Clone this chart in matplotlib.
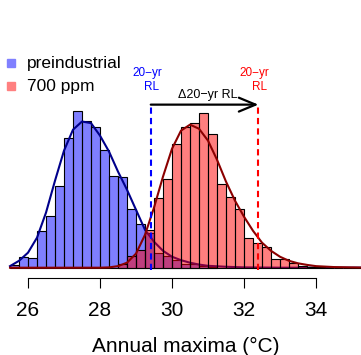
import numpy as np
import matplotlib
matplotlib.use("Agg")
import matplotlib.pyplot as plt

plt.rcParams['font.family'] = ['Liberation Sans', 'DejaVu Sans']

# histogram bins (width 0.25 degC), densities
bin_width = 0.25
pre_start = 25.5
pre_dens = [0.009, 0.035, 0.032, 0.118, 0.166, 0.262, 0.415, 0.502, 0.470, 0.450,
            0.377, 0.294, 0.291, 0.188, 0.141, 0.112, 0.048, 0.038, 0.026, 0.013,
            0.013, 0.006, 0.003]
ppm_start = 28.5
ppm_dens = [0.013, 0.038, 0.058, 0.121, 0.224, 0.284, 0.396, 0.450, 0.463, 0.495,
            0.428, 0.268, 0.227, 0.188, 0.094, 0.078, 0.065, 0.027, 0.029, 0.014,
            0.005, 0.003, 0.002, 0.0, 0.0, 0.0, 0.003]

# fitted density curves
pre_fit_x = [25.5, 25.75, 26.0, 26.25, 26.5, 26.75, 27.0, 27.25, 27.5, 27.75, 28.0,
             28.25, 28.5, 28.75, 29.0, 29.25, 29.5, 29.75, 30.0, 30.25, 30.5, 30.75,
             31.0, 31.5, 32.0, 33.0, 35.5]
pre_fit_y = [0.005, 0.022, 0.048, 0.096, 0.176, 0.278, 0.374, 0.441, 0.467, 0.462, 0.422,
             0.371, 0.307, 0.249, 0.185, 0.121, 0.083, 0.054, 0.035, 0.024, 0.016, 0.010,
             0.006, 0.003, 0.001, 0.0, 0.0]
ppm_fit_x = [25.5, 28.0, 28.25, 28.5, 28.75, 29.0, 29.25, 29.5, 29.75, 30.0, 30.25, 30.5,
             30.75, 31.0, 31.25, 31.5, 31.75, 32.0, 32.25, 32.5, 32.75, 33.0, 33.25,
             33.5, 33.75, 34.0, 34.5, 35.0, 35.5]
ppm_fit_y = [0.0, 0.0, 0.001, 0.005, 0.016, 0.045, 0.105, 0.192, 0.291, 0.380, 0.438, 0.457,
             0.444, 0.406, 0.345, 0.275, 0.214, 0.163, 0.118, 0.080, 0.054, 0.035, 0.022,
             0.014, 0.009, 0.005, 0.002, 0.001, 0.0]

# 20-yr return levels
rl_pre = 29.41
rl_ppm = 32.40

labels = ['preindustrial', '700 ppm']
xticks = [26, 28, 30, 32, 34]

fig = plt.figure(figsize=(3.61, 3.55), dpi=100)
ax = fig.add_axes([0, 77 / 355, 1, 278 / 355])

pre_x = pre_start + bin_width * np.arange(len(pre_dens))
ppm_x = ppm_start + bin_width * np.arange(len(ppm_dens))

ax.bar(pre_x, pre_dens, width=bin_width, align='edge', color=(0, 0, 1, 0.5),
       edgecolor='black', linewidth=0.8, zorder=2)
ax.plot(pre_fit_x, pre_fit_y, color='#00008B', lw=1.5, zorder=3)
ax.bar(ppm_x, ppm_dens, width=bin_width, align='edge', color=(1, 0, 0, 0.5),
       edgecolor='black', linewidth=0.8, zorder=4)
ax.plot(ppm_fit_x, ppm_fit_y, color='#8B0000', lw=1.5, zorder=5)

top = 0.523
ax.plot([rl_pre, rl_pre], [-0.007, top], color='blue', lw=1.5, ls=(0, (3, 2)), zorder=6)
ax.plot([rl_ppm, rl_ppm], [-0.007, top], color='red', lw=1.5, ls=(0, (3, 2)), zorder=6)

ax.annotate('', xy=(rl_ppm, top - 0.002), xytext=(rl_pre, top - 0.002),
            arrowprops=dict(arrowstyle='->,head_length=1.2,head_width=0.5',
                            lw=1.6, color='black', shrinkA=0, shrinkB=0,
                            mutation_scale=10), zorder=7)
ax.text((rl_pre + rl_ppm) / 2 + 0.08, 0.551, '\u039420\u2212yr RL', ha='center',
        va='center', fontsize=9)

for rl, c in [(rl_pre, 'blue'), (rl_ppm, 'red')]:
    ax.text(rl - 0.1, 0.622, '20\u2212yr', color=c, ha='center', va='center', fontsize=8.5)
    ax.text(rl + 0.03, 0.576, 'RL', color=c, ha='center', va='center', fontsize=8.5)

# legend
leg_colors = ['#8080FF', '#FF8080']
for i, (lab, c) in enumerate(zip(labels, leg_colors)):
    yy = 0.772 - i * 0.083
    ax.plot([0.0305], [yy], marker='s', ms=6, color=c, ls='none', transform=ax.transAxes,
            clip_on=False)
    ax.text(0.0748, yy, lab, fontsize=12.5, va='center', ha='left', transform=ax.transAxes)

ax.set_xlim(25.222, 35.25)
ax.set_ylim(-0.0329, 0.8553)
for s in ['top', 'left', 'right']:
    ax.spines[s].set_visible(False)
ax.spines['bottom'].set_bounds(26, 34)
ax.spines['bottom'].set_linewidth(0.8)
ax.set_xticks(xticks)
ax.set_xticklabels([str(t) for t in xticks])
ax.tick_params(axis='x', length=7.5, width=0.8, pad=9, labelsize=15)
ax.set_yticks([])
ax.patch.set_alpha(0)

ax.set_xlabel('Annual maxima (\u00b0C)', fontsize=15)
ax.xaxis.label.set_va('center')
ax.xaxis.set_label_coords(0.514, -(346 - 278) / 278)

fig.savefig('out.png', dpi=100)
